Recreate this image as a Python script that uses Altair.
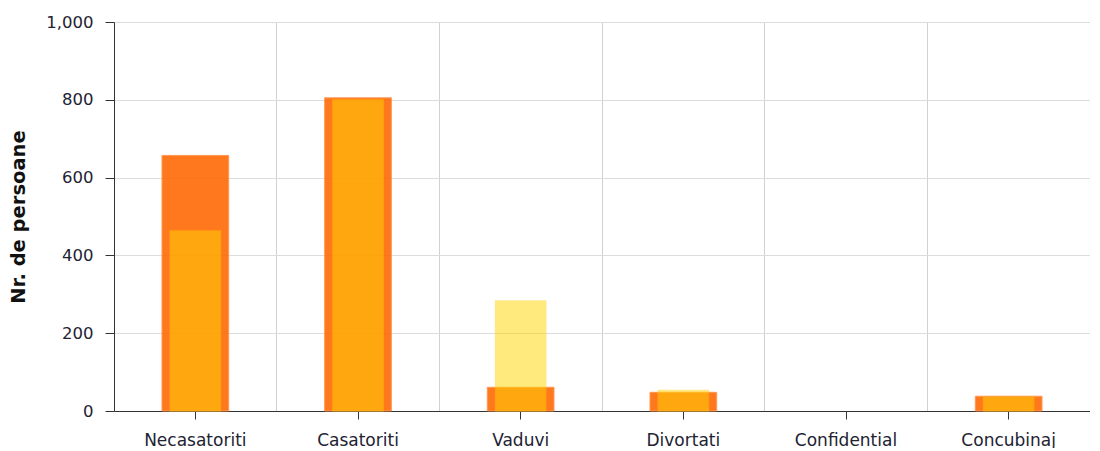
import altair as alt
import pandas as pd

categories = ["Necasatoriti", "Casatoriti", "Vaduvi", "Divortati", "Confidential", "Concubinaj"]
series_a = [657, 805, 61, 48, 0, 38]   # wider orange bars
series_b = [463, 800, 283, 53, 0, 36]  # narrower yellow bars

df = pd.DataFrame({"cat": categories, "a": series_a, "b": series_b})

FONT = "DejaVu Sans"

x_scale = alt.Scale(domain=categories, paddingInner=0, paddingOuter=0)
y_scale = alt.Scale(domain=[0, 1000])

base = alt.Chart(df)

grid_layer = base.mark_bar(opacity=0).encode(
    x=alt.X("cat:N", scale=x_scale, sort=categories, title=None,
            axis=alt.Axis(orient="bottom", grid=True, bandPosition=0, labels=False,
                          ticks=False, domain=False, gridColor="#d0d0d0", gridWidth=1)),
    y=alt.Y("a:Q", scale=y_scale, title="Nr. de persoane",
            axis=alt.Axis(values=[0, 200, 400, 600, 800, 1000], format=",d",
                          grid=True, gridColor="#dcdcdc", domainColor="#333333",
                          tickColor="#333333", tickSize=9, labelPadding=12,
                          labelFontSize=16.5, titlePadding=17)),
)

orange = base.mark_bar(color="#FF6600", opacity=0.88, stroke="#FF8a3a", strokeWidth=1,
                       width=alt.RelativeBandSize(0.41)).encode(
    x=alt.X("cat:N", scale=x_scale, sort=categories, title=None,
            axis=alt.Axis(orient="bottom", grid=False, labelAngle=0, domainColor="#333333",
                          tickColor="#333333", tickSize=8, labelPadding=13,
                          labelFontSize=17)),
    y=alt.Y("a:Q", scale=y_scale),
).transform_filter("datum.a > 0")

yellow = base.mark_bar(color="#FFD600", opacity=0.5, stroke="#FFD000", strokeWidth=1.2,
                       strokeOpacity=0.9,
                       width=alt.RelativeBandSize(0.31)).encode(
    x=alt.X("cat:N", scale=x_scale, sort=categories, axis=None),
    y=alt.Y("b:Q", scale=y_scale),
).transform_filter("datum.b > 0")

chart = alt.layer(grid_layer, orange, yellow).resolve_axis(x="independent").properties(
    width=976, height=389, padding={"left": 0, "top": 6, "right": 0, "bottom": 0}
).configure_view(stroke=None).configure_axis(
    labelFont=FONT, labelFontSize=17, labelColor="#222233",
    titleFont=FONT, titleFontSize=19.5, titleFontWeight="bold", titleColor="#111111",
)

chart.save("out.html", embed_options={"renderer": "svg", "actions": False})
